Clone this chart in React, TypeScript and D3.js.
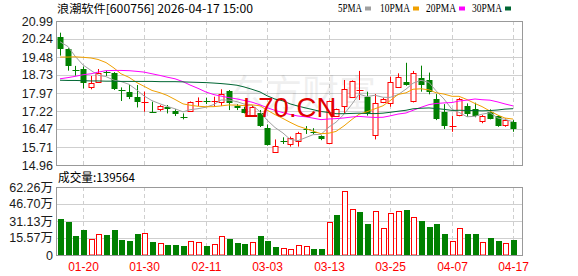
import React from 'react';
import * as d3 from 'd3';

const dates = ['01-15','01-16','01-19','01-20','01-21','01-22','01-23','01-26','01-27','01-28','01-29','01-30','02-02','02-03','02-04','02-05','02-06','02-09','02-10','02-11','02-12','02-13','02-24','02-25','02-26','02-27','03-02','03-03','03-04','03-05','03-06','03-09','03-10','03-11','03-12','03-13','03-16','03-17','03-18','03-19','03-20','03-23','03-24','03-25','03-26','03-27','03-30','03-31','04-01','04-02','04-03','04-07','04-08','04-09','04-10','04-13','04-14','04-15','04-16','04-17'];

const opens = [20.31,19.82,18.92,18.97,18.24,18.45,18.84,18.83,18.11,18.02,17.82,17.59,17.16,17.32,17.37,17.22,16.99,17.23,17.63,17.62,17.63,17.57,18.04,17.43,17.30,17.05,17.12,16.52,15.50,15.98,15.84,15.94,16.47,16.36,16.17,15.88,17.01,17.43,17.82,18.05,17.82,16.22,17.60,17.55,18.24,18.45,17.61,18.59,18.52,17.72,17.19,16.59,17.02,17.43,17.30,16.84,17.19,17.01,16.63,16.75];
const highs = [20.50,19.85,19.11,19.08,18.69,18.98,18.91,18.85,18.21,18.31,18.31,18.03,17.61,17.47,17.47,17.30,17.12,17.62,17.79,17.78,17.82,18.13,18.10,17.51,17.40,17.45,17.26,16.66,16.03,16.12,16.15,16.35,16.59,16.50,16.20,17.65,17.32,18.52,18.50,18.90,18.03,17.93,17.77,18.66,18.80,19.24,18.90,19.12,18.83,17.93,17.51,17.01,17.77,17.54,17.57,17.05,17.29,17.05,16.91,16.84];
const lows = [19.54,18.91,18.70,18.16,18.13,18.45,18.69,18.10,17.64,17.72,17.37,17.19,17.14,17.21,17.12,17.01,16.87,17.20,17.43,17.51,17.40,17.43,17.26,17.26,17.12,17.03,16.55,15.77,15.50,15.84,15.73,15.73,16.26,16.26,16.00,15.83,16.98,17.12,17.80,17.68,17.03,16.03,17.55,17.40,18.20,18.28,17.58,18.03,17.92,16.84,16.47,16.35,17.00,16.98,16.96,16.71,16.87,16.56,16.56,16.35];
const closes = [19.82,19.12,18.90,18.37,18.39,18.83,18.82,18.14,18.09,17.82,17.60,17.61,17.15,17.43,17.29,17.09,16.97,17.59,17.65,17.61,17.65,17.92,17.55,17.33,17.12,17.40,16.57,15.80,15.76,15.96,16.09,16.29,16.46,16.35,16.03,17.63,17.29,18.13,18.48,18.09,17.15,17.55,17.71,18.45,18.66,18.31,18.80,18.31,18.03,16.89,16.59,16.61,17.71,17.09,17.00,17.03,16.91,16.59,16.84,16.47];
const volumes = [329600,305200,174000,228900,143500,189200,183100,228900,137300,128200,192300,198400,119000,106800,91600,91600,82400,125100,119000,82400,97700,170900,146500,109900,100700,116000,174000,131200,73200,61000,56000,88500,79400,54900,54900,302100,366200,582900,418100,393700,283800,399800,244200,381500,399800,412000,344900,311300,256400,283800,192300,128200,244200,192300,192300,116000,155700,128200,106800,139564];

// MA values before enough in-window history exists
const ma5Head = [20.12,19.92,19.52,19.15];
const ma10Head = [19.48,19.48,19.49,19.47,19.44,19.38,19.25,19.02,18.78];
const ma20Head = [18.57,18.62,18.67,18.74,18.78,18.85,18.91,18.92,18.92,18.91,18.88,18.85,18.78,18.71,18.64,18.57,18.45,18.31,18.17];
const ma30Head = [18.51,18.50,18.50,18.49,18.48,18.48,18.47,18.47,18.46,18.46,18.46,18.46,18.46,18.45,18.45,18.45,18.44,18.43,18.42,18.41,18.39,18.37,18.34,18.30,18.23,18.13,18.02,17.86,17.72];

const priceTicks = ['20.99','20.24','19.48','18.73','17.97','17.22','16.47','15.71','14.96'];
const volTicks = ['62.26万','46.70万','31.13万','15.57万','0'];
const xTicks = ['01-20','01-30','02-11','03-03','03-13','03-25','04-07','04-17'];

const legendNames = ['5PMA','10PMA','20PMA','30PMA'];
const legendColors = ['#a0a0a0','#f0a000','#ff00ff','#006633'];

const titleText = '浪潮软件[600756] 2026-04-17 15:00';
const volTitle = '成交量:139564';

const RED = '#ff0000';
const GREEN = '#008000';

function movingAvg(n: number, head: number[]) {
  return closes.map((c, i) => (i < head.length ? head[i] : (d3.mean(closes.slice(i - n + 1, i + 1)) as number)));
}

export default function App() {
  const W = 578, H = 276;
  const left = 56, right = 522;
  const pTop = 21, pBot = 165;
  const vTop = 187, vBot = 255;

  const x = d3.scaleBand<string>().domain(dates).range([56.5, 517.5]).padding(0);
  const cx = (d: string) => Math.floor((x(d) as number) + x.bandwidth() / 2) + 0.5;
  const pv = priceTicks.map(Number);
  const y = d3.scaleLinear().domain([d3.min(pv) as number, d3.max(pv) as number]).range([pBot, pTop]);
  const vMax = parseFloat(volTicks[0]) * 10000;
  const yv = d3.scaleLinear().domain([0, vMax]).range([vBot, vTop]);

  const mas = [movingAvg(5, ma5Head), movingAvg(10, ma10Head), movingAvg(20, ma20Head), movingAvg(30, ma30Head)];
  const line = d3.line<number>().x((_, i) => cx(dates[i]) - 0.5).y((v) => y(v));

  const numFont = "'Liberation Sans', Arial, 'Noto Sans CJK SC', sans-serif";
  const cjkFont = "'Noto Sans CJK SC', sans-serif";

  return (
    <svg width={W} height={H} style={{ position: 'fixed', left: 0, top: 0, background: '#fff' }}>
      <rect x={0} y={0} width={W} height={H} fill="#fff" />
      {/* title */}
      <text x={57} y={12.5} fontFamily={cjkFont} fontSize={11.5} fill="#000" textLength={196} lengthAdjust="spacingAndGlyphs">{titleText}</text>
      {/* legend */}
      {legendNames.map((n, k) => {
        const xs = [338, 380, 426, 472][k];
        const w = n.length * 6;
        return (
          <g key={n}>
            <text x={xs} y={12} fontFamily="'Liberation Serif', serif" fontSize={12} fill="#000" textLength={w} lengthAdjust="spacingAndGlyphs">{n}</text>
            <rect x={xs + w + 3} y={6.5} width={6} height={4} fill={legendColors[k]} />
          </g>
        );
      })}

      {/* price grid */}
      {pv.map((v, k) => (
        <line key={'pg' + k} x1={left} x2={right} y1={Math.round(y(v)) + 0.5} y2={Math.round(y(v)) + 0.5} stroke="#cfcfcf" />
      ))}
      {xTicks.map((d) => (
        <line key={'vx' + d} x1={cx(d)} x2={cx(d)} y1={pTop} y2={pBot} stroke="#cfcfcf" strokeDasharray="4,3" />
      ))}
      {/* watermark */}
      <text x={228} y={107} fontFamily={cjkFont} fontSize={37} fill="#000" opacity={0.06}>东方财富</text>
      <rect x={left + 0.5} y={pTop + 0.5} width={right - left} height={pBot - pTop} fill="none" stroke="#999" />

      {/* candles */}
      {dates.map((d, i) => {
        const o = opens[i], c = closes[i], h = highs[i], l = lows[i];
        const up = c >= o;
        const col = up ? RED : GREEN;
        const X = cx(d);
        const yTop = y(Math.max(o, c)), yBotB = y(Math.min(o, c));
        const bh = Math.max(1, yBotB - yTop);
        return (
          <g key={'c' + d}>
            <line x1={X} x2={X} y1={y(h)} y2={y(l)} stroke={col} />
            {up ? (
              bh <= 1.5 ? (
                <rect x={X - 3} y={Math.round(yTop)} width={7} height={1} fill={col} />
              ) : (
                <rect x={X - 2.5} y={Math.round(yTop) + 0.5} width={5} height={Math.round(bh)} fill="#fff" stroke={col} />
              )
            ) : (
              <rect x={X - 3} y={Math.round(yTop)} width={bh <= 1.5 ? 7 : 6} height={Math.max(1, Math.round(bh))} fill={col} />
            )}
          </g>
        );
      })}

      {/* MA lines */}
      {mas.map((m, k) => (
        <path key={'ma' + k} d={line(m) as string} fill="none" stroke={legendColors[k]} strokeWidth={1} />
      ))}

      {/* overlay text */}
      <text x={243} y={117} fontFamily={numFont} fontSize={27.5} fill="#e00000">L70.CN</text>

      {/* price labels */}
      {priceTicks.map((t, k) => (
        <text key={'pl' + k} x={53} y={y(pv[k]) + 4.5} textAnchor="end" fontFamily={numFont} fontSize={12.5} fill="#1a1a1a">{t}</text>
      ))}

      {/* volume */}
      <text x={58} y={182} fontFamily={cjkFont} fontSize={12} fill="#000" textLength={77} lengthAdjust="spacingAndGlyphs">{volTitle}</text>
      {volTicks.map((t, k) => {
        const v = parseFloat(t) * (t.includes('万') ? 10000 : 1);
        return (
          <g key={'vt' + k}>
            {k > 0 && k < volTicks.length - 1 && (
              <line x1={left} x2={right} y1={Math.round(yv(v)) + 0.5} y2={Math.round(yv(v)) + 0.5} stroke="#cfcfcf" />
            )}
            <text x={53} y={yv(v) + 4.5} textAnchor="end" fontFamily={numFont} fontSize={12.5} fill="#1a1a1a">{t}</text>
          </g>
        );
      })}
      {xTicks.map((d) => (
        <line key={'vvx' + d} x1={cx(d)} x2={cx(d)} y1={vTop} y2={vBot} stroke="#cfcfcf" strokeDasharray="4,3" />
      ))}
      {dates.map((d, i) => {
        const upDay = i === 0 ? closes[0] >= opens[0] : closes[i] >= closes[i - 1];
        const X = cx(d);
        const yt = yv(volumes[i]);
        const hgt = vBot - yt;
        return upDay ? (
          <rect key={'v' + d} x={X - 2} y={Math.round(yt) + 0.5} width={5} height={Math.max(0, Math.round(hgt) - 0.5)} fill="#fff" stroke={RED} />
        ) : (
          <rect key={'v' + d} x={X - 2.5} y={Math.round(yt)} width={6} height={Math.round(hgt)} fill={GREEN} />
        );
      })}
      <rect x={left + 0.5} y={vTop + 0.5} width={right - left} height={vBot - vTop} fill="none" stroke="#999" />

      {/* x labels */}
      {xTicks.map((d) => (
        <text key={'xl' + d} x={cx(d)} y={270.5} textAnchor="middle" fontFamily={numFont} fontSize={12} fill={RED}>{d}</text>
      ))}
    </svg>
  );
}
